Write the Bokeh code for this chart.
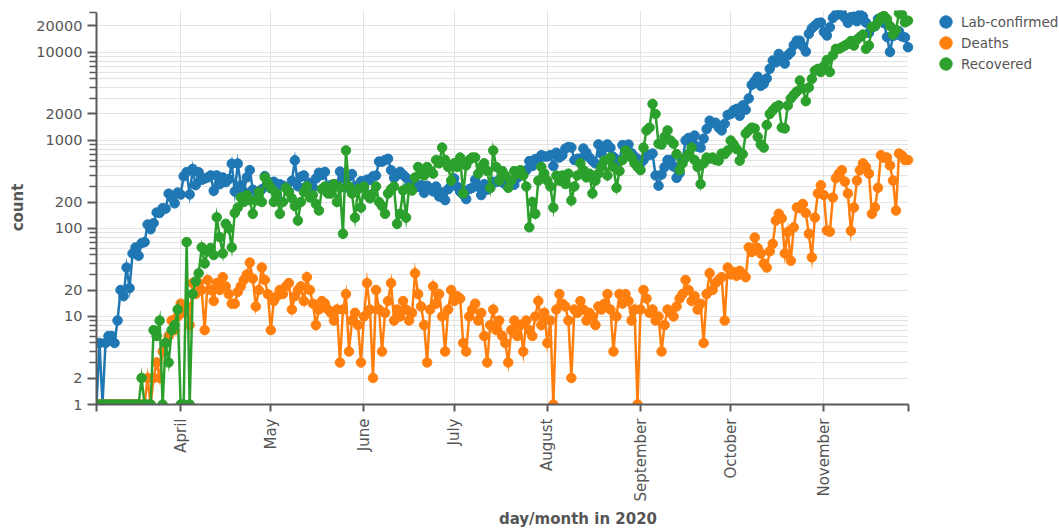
import math
import datetime as dt
from bokeh.plotting import figure
from bokeh.models import (Range1d, FixedTicker, DatetimeTickFormatter, NumeralTickFormatter,
                          Legend, LegendItem, BoxAnnotation)
from bokeh.embed import file_html
from bokeh.resources import INLINE

# ---------------- data ----------------
first_day = dt.datetime(2020, 3, 4)
n_days = 271
dates = [first_day + dt.timedelta(days=i) for i in range(n_days)]

lab_confirmed = [
    # March 4-31
    1, 5, 1, 5, 6, 6, 5, 9, 20, 17, 36, 21, 52, 61, 49, 68, 70, 111, 98, 115, 152, 150, 170, 168, 249, 224, 193, 256,
    # April
    243, 392, 437, 244, 475, 311, 435, 357, 370, 380, 401, 268, 401, 318, 380, 336, 363, 545, 263, 546,
    311, 263, 381, 461, 276, 215, 263, 279, 394, 338,
    # May
    286, 340, 234, 318, 307, 292, 263, 347, 595, 302, 387, 401, 306, 330, 292, 369, 430, 404, 439, 263,
    312, 318, 313, 443, 376, 293, 389, 416, 301, 296, 344,
    # June
    292, 359, 356, 392, 399, 576, 575, 599, 620, 460, 375, 406, 440, 407, 378, 305, 314, 301, 297, 311,
    254, 306, 283, 264, 300, 231, 256, 210, 279, 306,
    # July
    371, 299, 262, 243, 216, 280, 290, 358, 299, 240, 319, 276, 290, 339, 337, 358, 335, 318, 357, 334,
    314, 375, 418, 443, 460, 584, 512, 615, 615, 680, 657,
    # August
    658, 680, 512, 726, 640, 680, 809, 843, 832, 599, 619, 624, 811, 726, 640, 587, 548, 903, 711, 832,
    903, 826, 650, 579, 594, 887, 800, 900, 717, 656, 612,
    # September
    550, 597, 684, 683, 711, 400, 306, 410, 497, 599, 601, 506, 376, 425, 600, 1002, 1070, 974, 1136, 850,
    830, 1050, 1350, 1680, 1580, 1590, 1400, 1300, 1550, 1950,
    # October
    2000, 2200, 2292, 1906, 2506, 2236, 3003, 4280, 4739, 5300, 4178, 4394, 5068, 6526, 8099, 7705, 9622,
    8536, 7482, 9291, 10040, 12107, 13632, 13628, 11742, 10241, 16300, 18820, 20156, 21629, 21897,
    # November 1-29
    17171, 15578, 19364, 24692, 27143, 27086, 27875, 24785, 21713, 25221, 25484, 22683, 26999, 25571,
    21854, 16687, 19152, 19883, 23975, 22464, 21594, 15002, 10139, 15362, 15907, 17395, 15178, 14838, 11483,
]

deaths = [
    # March 4-31
    1, 1, 1, 1, 1, 1, 1, 1, 1, 1, 1, 1, 1, 1, 1, 1, 1, 2, 1, 2, 3, 2, 4, 5, 6, 9, 7, 10,
    # April
    14, 11, 13, 8, 24, 18, 24, 20, 7, 26, 20, 15, 24, 20, 28, 22, 18, 14, 14, 19,
    22, 26, 30, 41, 27, 13, 20, 36, 26, 18,
    # May
    7, 15, 17, 20, 18, 22, 24, 12, 17, 20, 22, 15, 28, 20, 14, 8, 12, 15, 14, 12,
    11, 9, 12, 3, 12, 18, 4, 9, 11, 8, 3,
    # June
    10, 24, 12, 2, 20, 12, 4, 11, 15, 24, 9, 12, 10, 15, 12, 9, 11, 31, 18, 13,
    8, 3, 12, 22, 14, 18, 10, 4, 12, 20,
    # July
    15, 17, 16, 5, 4, 10, 12, 14, 9, 11, 6, 3, 8, 12, 7, 9, 6, 5, 3, 7,
    9, 6, 8, 4, 9, 7, 6, 10, 15, 8, 11,
    # August
    5, 9, 1, 12, 18, 14, 13, 9, 2, 12, 11, 15, 12, 9, 11, 10, 8, 13, 12, 14,
    18, 12, 4, 10, 18, 14, 18, 15, 9, 12, 1,
    # September
    12, 20, 16, 11, 12, 9, 10, 4, 8, 12, 11, 10, 13, 16, 18, 26, 20, 15, 17, 12,
    14, 5, 18, 31, 20, 24, 26, 28, 9, 36,
    # October
    30, 32, 29, 33, 30, 28, 61, 54, 79, 60, 52, 40, 36, 55, 67, 123, 147, 130, 52, 91,
    43, 103, 173, 170, 190, 150, 87, 47, 133, 250, 310,
    # November 1-29
    240, 95, 92, 225, 373, 420, 460, 340, 250, 94, 173, 350, 460, 550, 500, 420, 147, 174, 290, 680,
    637, 640, 520, 350, 160, 710, 674, 600, 600,
]

recovered = [
    # March 4-31
    1, 1, 1, 1, 1, 1, 1, 1, 1, 1, 1, 1, 1, 1, 1, 2, 1, 1, 1, 7, 6, 9, 1, 5, 3, 7, 8, 12,
    # April
    1, 1, 70, 1, 18, 25, 31, 61, 40, 55, 60, 50, 134, 80, 52, 113, 100, 61, 150, 173,
    225, 200, 240, 210, 147, 208, 260, 200, 380, 330,
    # May
    290, 200, 250, 147, 200, 290, 260, 220, 180, 123, 200, 260, 300, 225, 240, 190, 160, 280, 300, 250,
    250, 320, 200, 290, 87, 770, 300, 250, 133, 280, 173,
    # June
    300, 240, 220, 250, 300, 200, 180, 147, 250, 280, 300, 113, 147, 270, 133, 290, 270, 380, 500, 420,
    400, 500, 450, 420, 600, 550, 830, 600, 500, 350,
    # July
    550, 500, 640, 250, 520, 600, 640, 640, 420, 500, 550, 450, 290, 770, 500, 350, 450, 400, 290, 350,
    450, 420, 460, 400, 300, 103, 200, 147, 350, 500, 420,
    # August
    350, 300, 173, 400, 350, 400, 320, 420, 208, 300, 400, 550, 460, 380, 420, 250, 350, 420, 500, 590,
    400, 640, 500, 290, 450, 600, 770, 710, 640, 550, 500,
    # September
    460, 830, 1300, 1400, 2600, 2000, 920, 900, 1100, 1300, 1000, 920, 700, 460, 550, 640, 700, 830, 600, 500,
    320, 550, 640, 620, 640, 600, 590, 710, 700, 770,
    # October
    1000, 900, 800, 590, 700, 1200, 1300, 1400, 1370, 1100, 900, 830, 1500, 2000, 2200, 2400, 2500, 1400,
    1370, 2500, 3000, 3300, 3600, 4800, 3900, 2800, 4000, 5000, 6200, 6500, 6000,
    # November 1-29
    7000, 8200, 6000, 9300, 11000, 11000, 11500, 12000, 12500, 13500, 12000, 14000, 15000, 16000, 11000,
    12000, 19500, 20000, 22000, 25000, 26000, 24000, 20000, 16000, 18000, 28000, 27000, 22000, 23000,
]

series_names = ["Lab-confirmed", "Deaths", "Recovered"]
series_colors = ["#1f77b4", "#ff7f0e", "#2ca02c"]

month_starts = [dt.datetime(2020, m, 1) for m in range(4, 12)]
y_major = [1, 2, 10, 20, 100, 200, 1000, 2000, 10000, 20000]
y_minor = [3, 4, 5, 6, 7, 8, 9, 30, 40, 50, 60, 70, 80, 90,
           300, 400, 500, 600, 700, 800, 900, 3000, 4000, 5000, 6000, 7000, 8000, 9000]
y_top = 28500

# ---------------- helpers ----------------
EPOCH = dt.datetime(1970, 1, 1)


def ms(d):
    return (d - EPOCH).total_seconds() * 1000.0


DAY = 86400000.0
x_first = ms(dates[0])
x_last = ms(dates[-1])
W, H = 1059, 531
LEFT, BOTTOM, TOP = 96, 127, 10
px_per_day = 3.0056
x_end = x_first + (W - LEFT) / px_per_day * DAY   # frame runs to the right edge (legend area)

FONT = "DejaVu Sans"
GREY = "#555555"
AXIS = "#5a5a5a"
GRID = "#e3e3e3"

p = figure(width=W, height=H, output_backend="svg", toolbar_location=None,
           y_axis_type="log",
           x_range=Range1d(x_first, x_end),
           y_range=Range1d(1, 30000),
           min_border_left=LEFT, min_border_right=0, min_border_top=TOP, min_border_bottom=BOTTOM)
p.outline_line_color = None
p.background_fill_color = "white"
p.border_fill_color = "white"

# hide grid lines in the legend area (right of the last day)
p.add_layout(BoxAnnotation(left=x_last, fill_color="white", fill_alpha=1.0,
                           line_color=None, level="underlay"))

xs = [ms(d) for d in dates]
for vals, col in zip([lab_confirmed, deaths, recovered], series_colors):
    p.line(xs, vals, line_width=2.5, color=col, line_join="miter")
    p.scatter(xs, vals, size=9.5, color=col, marker="circle")

# ---- x axis ----
xa = p.xaxis[0]
xa.ticker = FixedTicker(ticks=[ms(d) for d in month_starts], minor_ticks=[x_first, x_last])
xa.formatter = DatetimeTickFormatter(days="%B", months="%B", years="%B", hours="%B",
                                     minutes="%B", seconds="%B", milliseconds="%B")
xa.major_label_orientation = math.pi / 2
xa.major_label_text_baseline = "top"
xa.bounds = (x_first, x_last)
xa.axis_label = "day/month in 2020"
xa.axis_label_text_font = FONT
xa.axis_label_text_font_style = "bold"
xa.axis_label_text_font_size = "15px"
xa.axis_label_text_color = GREY
xa.axis_label_standoff = 6
xa.major_label_text_font = FONT
xa.major_label_text_font_size = "15px"
xa.major_label_text_color = GREY
xa.major_label_standoff = 7
xa.axis_line_color = AXIS
xa.axis_line_width = 2
xa.major_tick_line_color = AXIS
xa.major_tick_line_width = 2
xa.minor_tick_line_color = AXIS
xa.minor_tick_line_width = 2
xa.major_tick_out = 7
xa.major_tick_in = 0
xa.minor_tick_out = 7
xa.minor_tick_in = 0

# ---- y axis ----
ya = p.yaxis[0]
ya.ticker = FixedTicker(ticks=y_major, minor_ticks=y_minor + [y_top])
ya.formatter = NumeralTickFormatter(format="0")
ya.bounds = (1, y_top)
ya.axis_label = "count"
ya.axis_label_text_font = FONT
ya.axis_label_text_font_style = "bold"
ya.axis_label_text_font_size = "15px"
ya.axis_label_text_color = GREY
ya.axis_label_standoff = 6
ya.major_label_text_font = FONT
ya.major_label_text_font_size = "14.5px"
ya.major_label_text_color = GREY
ya.major_label_standoff = 5
ya.axis_line_color = AXIS
ya.axis_line_width = 2
ya.major_tick_line_color = AXIS
ya.major_tick_line_width = 2
ya.minor_tick_line_color = AXIS
ya.minor_tick_line_width = 1.5
ya.major_tick_out = 9
ya.major_tick_in = 0
ya.minor_tick_out = 7
ya.minor_tick_in = 0

# ---- grids ----
p.xgrid.ticker = FixedTicker(ticks=[ms(d) for d in month_starts])
p.xgrid.grid_line_color = GRID
p.xgrid.grid_line_width = 1
p.ygrid.ticker = FixedTicker(ticks=y_major, minor_ticks=y_minor)
p.ygrid.grid_line_color = GRID
p.ygrid.minor_grid_line_color = GRID
p.ygrid.grid_line_width = 1

# ---- legend: one single-item legend per series (glyph-only renderers) ----
legend_offsets = [367, 346, 325]   # bottom of each item, px above the x axis
for name, col, off in zip(series_names, series_colors, legend_offsets):
    r = p.scatter(x=[float("nan")], y=[float("nan")], size=12, color=col, marker="circle")
    lg = Legend(items=[LegendItem(label=name, renderers=[r])], location=(834, off),
                orientation="vertical", border_line_color=None, background_fill_alpha=0,
                label_text_font=FONT, label_text_font_size="13.5px", label_text_color=GREY,
                glyph_width=31, glyph_height=31, spacing=0, padding=0, margin=0,
                label_standoff=-1)
    p.add_layout(lg)

open("out.html", "w").write(file_html(p, INLINE))
